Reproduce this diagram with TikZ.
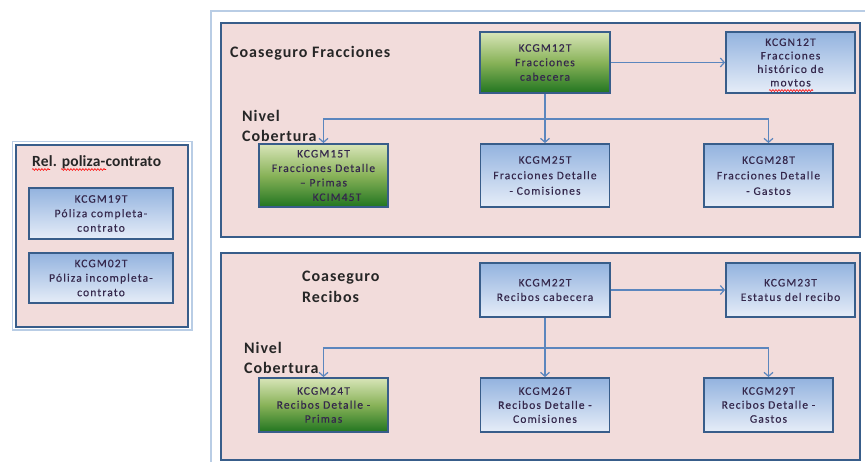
\documentclass[tikz,border=0pt]{standalone}
\usepackage{fontspec}
\setmainfont{Carlito}
\newfontfamily\boxfont{Carlito}[LetterSpace=10,FakeBold=0.4]
\newfontfamily\headfont{Carlito}[LetterSpace=6]
\newfontfamily\relfont{Carlito}[LetterSpace=1]
\usetikzlibrary{arrows.meta,decorations.pathmorphing}

\definecolor{panelfill}{HTML}{F2DCDB}
\definecolor{panelline}{HTML}{385D8A}
\definecolor{framec}{HTML}{B9CDE5}
\definecolor{bluetop}{HTML}{93B3DF}
\definecolor{bluebot}{HTML}{E6EDF8}
\definecolor{greentop}{HTML}{D8E5B8}
\definecolor{greenmid}{HTML}{88B258}
\definecolor{greenbot}{HTML}{217520}
\definecolor{boxtext}{HTML}{35284C}
\definecolor{headtext}{HTML}{262626}
\definecolor{connc}{HTML}{5B86BE}

\tikzset{
  tbl/.style={draw=panelline, line width=1.8pt, inner sep=0pt, align=center,
    font=\boxfont\fontsize{11.5}{14.5}\selectfont, text=boxtext},
  bluebox/.style={tbl, top color=bluetop, bottom color=bluebot},
  greenbox/.style={tbl, top color=greentop, bottom color=greenbot, middle color=greenmid},
  panel/.style={fill=panelfill, draw=panelline, line width=2pt},
  heading/.style={font=\headfont\bfseries\fontsize{16}{20.5}\selectfont, text=headtext,
    inner sep=0pt, align=left},
  conn/.style={draw=connc, line width=1.2pt, -{Straight Barb[length=4pt,width=9pt]}},
  spell/.style={draw=red, line width=0.6pt, decorate,
    decoration={snake, amplitude=0.9pt, segment length=3pt}}
}

\begin{document}
\begin{tikzpicture}[x=1pt,y=-1pt]
\useasboundingbox (0,0) rectangle (865,462);
\fill[white] (0,0) rectangle (865,462);

% outer frame of the right-hand area
\draw[framec, line width=1.2pt] (211,470) -- (211,11) -- (870,11);

% left panel
\draw[framec, line width=1.2pt] (12.5,141.5) rectangle (192,330);
\draw[panel] (15.5,145) rectangle (188,327);
\node[heading, font=\relfont\bfseries\fontsize{15.5}{20}\selectfont, anchor=west]
  (rel) at (32,162) {Rel. poliza-contrato};
\node[bluebox, minimum width=144pt, minimum height=51pt] (m19) at (101,213.5)
  {KCGM19T\\Póliza completa-\\contrato};
\node[bluebox, minimum width=144pt, minimum height=50pt] (m02) at (101,278)
  {KCGM02T\\Póliza incompleta-\\contrato};

% top panel
\draw[panel] (221,23) rectangle (860,237);
\node[heading, anchor=west] (cf) at (230,53) {Coaseguro Fracciones};
\node[heading, anchor=west] (nc1) at (242,126) {Nivel\\Cobertura};

\node[greenbox, minimum width=130pt, minimum height=61pt] (m12) at (545,62.5)
  {KCGM12T\\Fracciones\\cabecera};
\node[bluebox, minimum width=129pt, minimum height=61pt,
  font=\boxfont\fontsize{11.5}{13.5}\selectfont] (n12) at (790.5,62.5)
  {KCGN12T\\Fracciones\\histórico de\\movtos};
\node[greenbox, minimum width=129pt, minimum height=63pt] (m15) at (323.5,175.5)
  {KCGM15T\\Fracciones Detalle\\– Primas\hspace*{19pt}\\\hspace*{27pt}KCIM45T};
\node[bluebox, minimum width=129pt, minimum height=63pt,
  font=\boxfont\fontsize{11.5}{15.5}\selectfont] (m25) at (545,175.5)
  {KCGM25T\\Fracciones Detalle\\- Comisiones};
\node[bluebox, minimum width=129pt, minimum height=63pt,
  font=\boxfont\fontsize{11.5}{15.5}\selectfont] (m28) at (768.5,175.5)
  {KCGM28T\\Fracciones Detalle\\- Gastos};

\coordinate (fj) at (545,119);
\draw[conn] (m12.east) -- (n12.west);
\draw[conn] (m12.south) -- (m12.south |- m25.north);
\draw[conn] (fj) -| (m15.north);
\draw[conn] (fj) -| (m28.north);

% bottom panel
\draw[panel] (221,253) rectangle (860,460);
\node[heading, anchor=west] (cr) at (302,287) {Coaseguro\\Recibos};
\node[heading, anchor=west] (nc2) at (244,358) {Nivel\\Cobertura};

\node[bluebox, minimum width=130pt, minimum height=54pt] (m22) at (545,290)
  {KCGM22T\\Recibos cabecera};
\node[bluebox, minimum width=129pt, minimum height=54pt] (m23) at (790.5,290)
  {KCGM23T\\Estatus del recibo};
\node[greenbox, minimum width=129pt, minimum height=54pt,
  font=\boxfont\fontsize{11.5}{14}\selectfont] (m24) at (323.5,405)
  {KCGM24T\\Recibos Detalle -\\Primas};
\node[bluebox, minimum width=129pt, minimum height=54pt,
  font=\boxfont\fontsize{11.5}{14}\selectfont] (m26) at (545,405)
  {KCGM26T\\Recibos Detalle -\\Comisiones};
\node[bluebox, minimum width=129pt, minimum height=54pt,
  font=\boxfont\fontsize{11.5}{14}\selectfont] (m29) at (768.5,405)
  {KCGM29T\\Recibos Detalle -\\Gastos};

\coordinate (rj) at (545,348);
\draw[conn] (m22.east) -- (m23.west);
\draw[conn] (m22.south) -- (m22.south |- m26.north);
\draw[conn] (rj) -| (m24.north);
\draw[conn] (rj) -| (m29.north);

% spell-check marks under words
\draw[spell] (32,169.5) -- (50,169.5);
\draw[spell] (61,169.5) -- (106,169.5);
\draw[spell] (769,90.5) -- (813,90.5);
\end{tikzpicture}
\end{document}
